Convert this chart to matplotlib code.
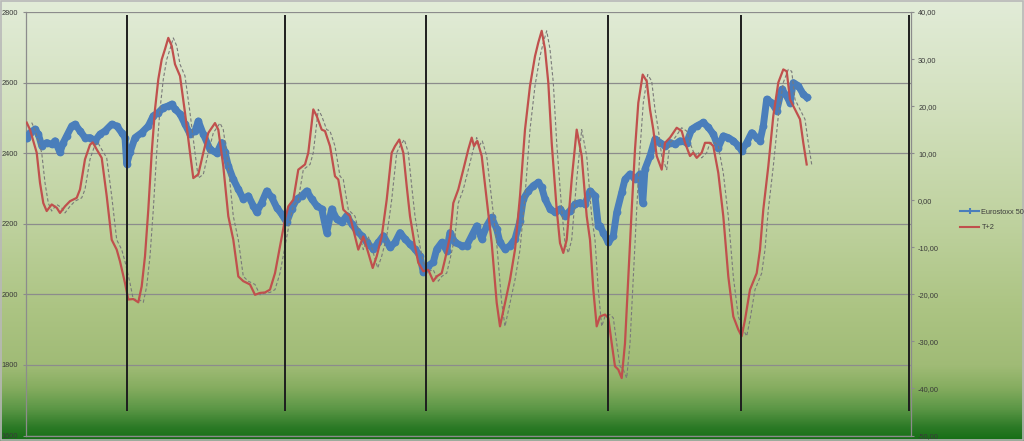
import matplotlib
matplotlib.use("Agg")
import matplotlib.pyplot as plt
import numpy as np
from matplotlib.colors import LinearSegmentedColormap
from matplotlib.lines import Line2D
from matplotlib.ticker import FuncFormatter

plt.rcParams["font.family"] = ["Liberation Sans", "DejaVu Sans"]

# Eurostoxx 50 (left axis): observation number, index level
stoxx_x = [0.7, 4, 9, 12.3, 15.7, 20.7, 25.7, 29, 34, 37.3, 40.7, 45.7, 49, 54, 59, 64, 69,
           74, 79, 85.7, 90.7, 95.7, 99, 100.7, 104, 109, 115.7, 122.3, 127.3, 132.3, 137.3,
           142.3, 145.7, 149, 154, 159, 164, 169, 172.3, 177.3, 184, 190.7, 195.7, 199,
           202.3, 207.3, 212.3, 217.3, 222.3, 227.3, 230.7, 235.7, 240.7, 245.7, 250.7,
           255.7, 260.7, 265.7, 270.7, 275.7, 280.7, 285.7, 290.7, 295.7, 300.7, 305.7,
           310.7, 315.7, 320.7, 325.7, 330.7, 335.7, 340.7, 347.3, 352.3, 357.3, 364, 369,
           374, 379, 384, 389, 394, 397.3, 402.3, 407.3, 410.7, 415.7, 420.7, 424, 429,
           435.7, 440.7, 445.7, 450.7, 455.7, 460.7, 465.7, 470.7, 474, 479, 484, 489, 494,
           497.3, 502.3, 507.3, 512.3, 515.7, 519, 524, 529, 534, 539, 544, 549, 554, 559,
           564, 569, 572.3, 574, 577.3, 582.3, 587.3, 590.7, 595.7, 599, 604, 609, 614,
           616.7, 619, 624, 629, 634, 639, 644, 649, 654, 660.7, 665.7, 670.7, 677.3,
           682.3, 687.3, 692.3, 697.3, 702.3, 707.3, 712.3, 715.7, 720.7, 725.7, 730.7,
           734, 737.3, 740.7, 745.7, 750.7, 755.7, 760.7, 764, 767.3, 772.3, 777.3, 780.7]
stoxx = [2444, 2458, 2468, 2454, 2421, 2430, 2425, 2435, 2402, 2430, 2449, 2477, 2482, 2463,
         2444, 2444, 2435, 2454, 2463, 2482, 2477, 2458, 2444, 2369, 2402, 2444, 2458, 2477,
         2506, 2515, 2529, 2534, 2539, 2525, 2511, 2482, 2454, 2463, 2491, 2454, 2411, 2400,
         2430, 2402, 2364, 2326, 2298, 2270, 2279, 2251, 2232, 2260, 2293, 2275, 2246, 2227,
         2204, 2242, 2270, 2279, 2293, 2270, 2251, 2242, 2175, 2242, 2213, 2204, 2223, 2199,
         2180, 2166, 2147, 2128, 2147, 2166, 2133, 2147, 2175, 2157, 2142, 2128, 2109, 2062,
         2081, 2091, 2128, 2147, 2124, 2175, 2147, 2138, 2138, 2166, 2194, 2157, 2194, 2218,
         2185, 2147, 2128, 2138, 2157, 2208, 2270, 2293, 2308, 2317, 2303, 2270, 2242, 2232,
         2242, 2223, 2237, 2256, 2260, 2256, 2293, 2279, 2194, 2194, 2175, 2147, 2166, 2232,
         2289, 2326, 2341, 2326, 2341, 2258, 2355, 2392, 2440, 2430, 2421, 2430, 2425, 2435,
         2430, 2468, 2477, 2487, 2473, 2454, 2416, 2449, 2444, 2435, 2421, 2407, 2430, 2458,
         2444, 2435, 2477, 2553, 2543, 2520, 2581, 2562, 2543, 2600, 2591, 2567, 2558]

# T+2 indicator (right axis)
tp2_x = [0.7, 4, 7.3, 10.7, 14, 17.3, 20.7, 25.7, 30.7, 34, 39, 44, 50.7, 54, 59, 64, 66.7,
         70.7, 75.7, 80.7, 85.7, 90.7, 94, 99, 102.3, 107.3, 112.3, 115.7, 119, 122.3,
         125.7, 129, 132.3, 135.7, 139, 142.3, 145.7, 149, 154, 159, 164, 167.3, 172.3,
         177.3, 182.3, 189, 192.3, 197.3, 202.3, 207.3, 212.3, 217.3, 224, 229, 234, 239,
         244, 249, 254, 259, 262.3, 267.3, 272.3, 279, 282.3, 287.3, 290.7, 295.7, 299,
         304, 309, 312.3, 317.3, 324, 327.3, 332.3, 337.3, 342.3, 346.7, 350.7, 355.7,
         360.7, 365.7, 369, 373.3, 377.3, 380.7, 384, 389, 392.3, 397.3, 402.3, 407.3,
         410.7, 415.7, 419, 424, 427.3, 432.3, 437.3, 442.3, 445.7, 448, 451.3, 455.7,
         460.7, 465.7, 470.7, 474, 479, 484, 489, 494, 499, 504, 509, 512.3, 515.7, 519,
         522.3, 525.7, 530.7, 534, 537.3, 540.7, 545.7, 550.7, 555.7, 560.7, 564, 567.3,
         570.7, 574, 579, 582.3, 585.7, 589, 592.3, 595.7, 599, 602.3, 605.7, 609, 612.3,
         616.7, 620.7, 624, 627.3, 630.7, 635.7, 639, 644, 650.7, 655.7, 659, 664, 667.3,
         670.7, 675.7, 679, 684, 687.3, 692.3, 697.3, 702.3, 707.3, 712.3, 715.7, 719,
         724, 730.7, 734, 737.3, 742.3, 747.3, 752.3, 757.3, 760.7, 764, 769, 774, 777.3,
         780.7]
tp2 = [16.5, 15.0, 12.6, 10.1, 3.7, -0.6, -2.3, -0.9, -1.6, -2.7, -1.3, -0.2, 0.5, 2.3,
       8.7, 11.8, 12.3, 10.8, 9.0, 0.9, -8.4, -10.5, -13.0, -17.6, -21.1, -21.0, -21.7,
       -18.3, -11.9, -2.0, 10.1, 19.3, 25.7, 29.9, 32.1, 34.5, 32.8, 28.9, 26.4, 18.6, 10.1,
       4.7, 5.5, 10.1, 14.3, 16.4, 15.0, 7.2, -3.4, -8.4, -16.2, -17.2, -17.9, -20.1, -19.7,
       -19.6, -19.0, -15.5, -9.8, -4.1, -1.3, 0.1, 6.5, 7.6, 10.1, 19.3, 17.9, 15.0, 14.7,
       11.5, 5.1, 4.4, -2.0, -3.4, -6.2, -10.5, -7.7, -11.2, -14.4, -11.9, -7.7, 0.1, 10.1,
       11.5, 12.9, 10.1, 3.0, -3.4, -9.8, -13.3, -15.1, -14.8, -17.2, -16.2, -15.5, -12.6,
       -7.7, -0.6, 2.3, 6.5, 10.8, 13.3, 11.5, 12.6, 9.4, 0.1, -9.1, -21.8, -26.8, -21.8,
       -16.9, -10.5, 0.9, 15.0, 24.3, 30.6, 33.5, 36.0, 32.1, 25.0, 12.2, -2.0, -9.1, -11.2,
       -8.4, 4.4, 15.0, 9.4, -3.4, -8.4, -19.0, -26.8, -24.7, -24.3, -25.0, -30.4, -35.3,
       -36.0, -37.8, -30.4, -16.2, -2.0, 10.8, 20.7, 26.7, 25.3, 19.3, 15.0, 9.4, 6.5, 12.2,
       13.3, 15.4, 14.7, 12.2, 9.4, 10.1, 9.0, 10.1, 12.2, 12.2, 11.5, 5.8, -3.4, -16.2,
       -24.7, -27.5, -28.9, -25.4, -19.0, -15.5, -10.5, -2.0, 7.2, 17.9, 25.0, 27.8, 27.4,
       21.4, 19.3, 17.2, 12.2, 7.6]

# the dashed curve is the same indicator without the T+2 shift
TP2_LAG = 5

# dates of the vertical markers
marker_x = [101, 259, 400, 582, 715, 883]

left_ticks = [1600, 1800, 2000, 2200, 2400, 2600, 2800]
right_ticks = [-50, -40, -30, -20, -10, 0, 10, 20, 30, 40]

BLUE = "#4a7ebb"
RED = "#c0504d"
GRID = "#8c8c8c"
TXT = "#3a3a3a"

fig = plt.figure(figsize=(10.24, 4.41), dpi=100)

# chart area gradient
bg = fig.add_axes([0, 0, 1, 1], zorder=-10)
cmap = LinearSegmentedColormap.from_list("bg", [
    (0.00, "#e2ecd8"), (0.25, "#d2e0bd"), (0.50, "#bfd29f"), (0.70, "#acc483"),
    (0.83, "#a0bb76"), (0.88, "#86ad60"), (0.93, "#5a9645"), (0.97, "#2c7a26"),
    (1.00, "#156e15")])
bg.imshow(np.linspace(0, 1, 256).reshape(-1, 1), aspect="auto", cmap=cmap,
          extent=[0, 1, 0, 1], origin="upper")
bg.set_xlim(0, 1)
bg.set_ylim(0, 1)
bg.axis("off")
bg.add_patch(plt.Rectangle((0.001, 0.002), 0.998, 0.996, fill=False,
                           edgecolor="#b8b8b8", linewidth=1.2))

ax = fig.add_axes([26 / 1024, 1 - 435.5 / 441, 884.5 / 1024, 423.5 / 441])
ax.patch.set_alpha(0)
ax.plot(stoxx_x, stoxx, color=BLUE, lw=5.0, marker="o", ms=5.6, mew=0,
        solid_joinstyle="round", zorder=3)
ax.set_xlim(0, 884.5)
ax.set_ylim(1600, 2800)
ax.set_yticks(left_ticks)
ax.set_xticks([])
ax.grid(axis="y", color=GRID, lw=0.9)
ax.set_axisbelow(True)
for s in ["top", "right"]:
    ax.spines[s].set_visible(False)
for s in ["left", "bottom"]:
    ax.spines[s].set_color(GRID)
    ax.spines[s].set_linewidth(0.9)
ax.tick_params(axis="y", length=2.5, width=0.8, color=GRID, labelsize=5.3,
               labelcolor=TXT, pad=3)

ax2 = ax.twinx()
ax2.plot([x + TP2_LAG for x in tp2_x], tp2, color="#7a7a7a", lw=0.8,
         ls=(0, (3, 2)), zorder=2)
ax2.plot(tp2_x, tp2, color=RED, lw=1.6, zorder=3)
ax2.vlines(marker_x, -44.7, 39.4, color="#1e1e1e", lw=1.4, zorder=5)
ax2.set_ylim(-50, 40)
ax2.set_yticks(right_ticks)
ax2.yaxis.set_major_formatter(FuncFormatter(lambda v, p: f"{v:.2f}".replace(".", ",")))
for s in ["top", "left", "bottom"]:
    ax2.spines[s].set_visible(False)
ax2.spines["right"].set_color(GRID)
ax2.spines["right"].set_linewidth(0.9)
ax2.tick_params(axis="y", length=2.5, width=0.8, color=GRID, labelsize=5.3,
                labelcolor=TXT, pad=3)

handles = [Line2D([], [], color=BLUE, lw=1.5, marker="|", ms=4, mew=1.5),
           Line2D([], [], color=RED, lw=1.5)]
fig.legend(handles, ["Eurostoxx 50", "T+2"], loc="center left",
           bbox_to_anchor=(955 / 1024, 1 - 220 / 441), frameon=False,
           fontsize=5.3, labelcolor=TXT, handlelength=2.6, handletextpad=0.3,
           labelspacing=1.1, borderpad=0.2)

fig.savefig("out.png", dpi=100)
